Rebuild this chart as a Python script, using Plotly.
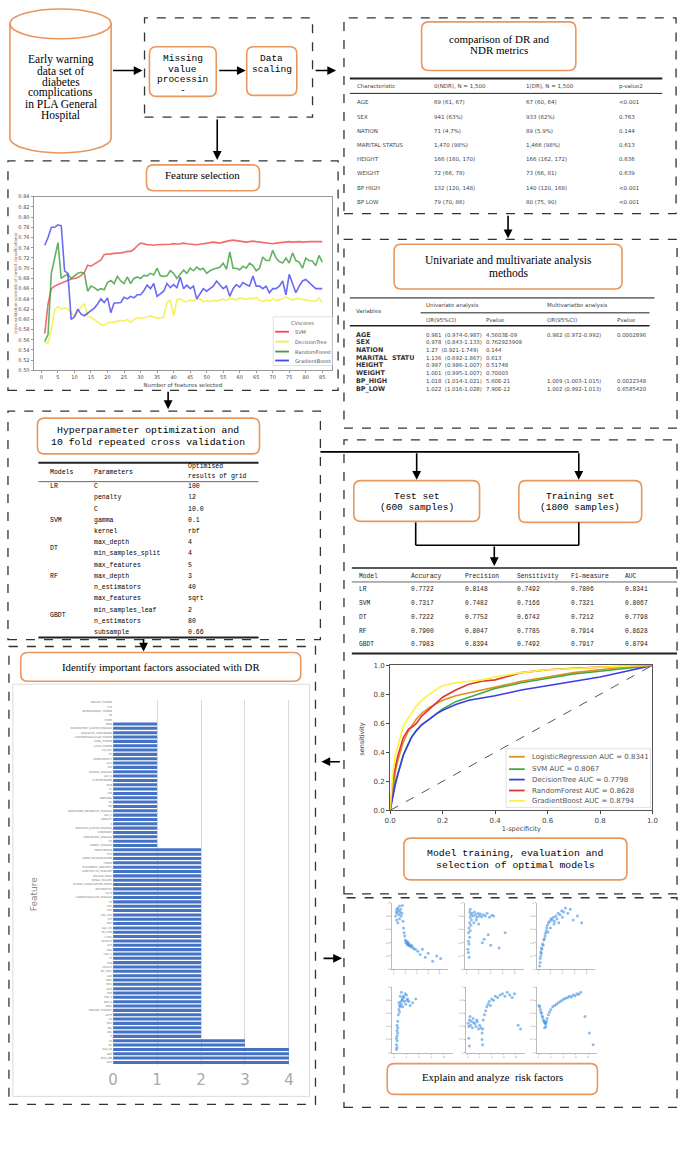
import plotly.graph_objects as go

W, H = 685, 1153


def X(px):
    return px / W


def Y(py):
    return 1 - py / H


# ---------------- data ----------------
n_features = list(range(1, 86))
cv_svm = [0.572, 0.630, 0.660, 0.665, 0.668, 0.671, 0.674, 0.677, 0.679, 0.680,
          0.682, 0.686, 0.692, 0.706, 0.704, 0.708, 0.712, 0.716, 0.727, 0.727,
          0.728, 0.729, 0.729, 0.730, 0.731, 0.733, 0.733, 0.737, 0.744, 0.749,
          0.748, 0.746, 0.746, 0.745, 0.746, 0.746, 0.746, 0.747, 0.747, 0.748,
          0.747, 0.748, 0.749, 0.748, 0.747, 0.746, 0.746, 0.747, 0.748, 0.750,
          0.751, 0.751, 0.750, 0.749, 0.751, 0.753, 0.754, 0.755, 0.754, 0.753,
          0.752, 0.751, 0.752, 0.753, 0.752, 0.751, 0.750, 0.750, 0.749, 0.748,
          0.749, 0.750, 0.751, 0.751, 0.752, 0.751, 0.752, 0.752, 0.751, 0.752,
          0.752, 0.752, 0.752, 0.753, 0.752]
cv_dt = [0.555, 0.553, 0.580, 0.618, 0.625, 0.620, 0.622, 0.620, 0.612, 0.606,
         0.614, 0.624, 0.630, 0.606, 0.604, 0.600, 0.595, 0.590, 0.588, 0.593,
         0.594, 0.594, 0.596, 0.598, 0.596, 0.600, 0.594, 0.600, 0.603, 0.602,
         0.603, 0.604, 0.607, 0.605, 0.602, 0.603, 0.604, 0.634, 0.637, 0.607,
         0.638, 0.640, 0.636, 0.634, 0.638, 0.636, 0.639, 0.640, 0.634, 0.636,
         0.635, 0.637, 0.636, 0.638, 0.640, 0.637, 0.641, 0.640, 0.638, 0.642,
         0.640, 0.639, 0.641, 0.640, 0.643, 0.637, 0.635, 0.638, 0.636, 0.640,
         0.637, 0.638, 0.641, 0.644, 0.640, 0.638, 0.640, 0.641, 0.639, 0.638,
         0.637, 0.636, 0.635, 0.642, 0.633]
cv_rf = [0.557, 0.570, 0.690, 0.720, 0.750, 0.680, 0.685, 0.688, 0.680, 0.685,
         0.690, 0.692, 0.690, 0.655, 0.665, 0.662, 0.657, 0.660, 0.658, 0.672,
         0.676, 0.670, 0.684, 0.675, 0.670, 0.683, 0.670, 0.680, 0.683, 0.680,
         0.686, 0.685, 0.690, 0.687, 0.700, 0.685, 0.684, 0.685, 0.695, 0.690,
         0.680, 0.688, 0.696, 0.690, 0.700, 0.695, 0.702, 0.697, 0.700, 0.690,
         0.695, 0.698, 0.700, 0.702, 0.710, 0.698, 0.732, 0.700, 0.700, 0.697,
         0.704, 0.700, 0.710, 0.705, 0.695, 0.700, 0.722, 0.715, 0.715, 0.735,
         0.720, 0.713, 0.710, 0.720, 0.710, 0.730, 0.715, 0.712, 0.700, 0.720,
         0.715, 0.714, 0.705, 0.725, 0.712]
cv_gb = [0.745, 0.760, 0.780, 0.780, 0.785, 0.783, 0.695, 0.690, 0.600, 0.605,
         0.620, 0.610, 0.607, 0.612, 0.617, 0.622, 0.630, 0.640, 0.633, 0.642,
         0.613, 0.632, 0.632, 0.633, 0.643, 0.640, 0.645, 0.642, 0.648, 0.648,
         0.656, 0.667, 0.660, 0.670, 0.645, 0.650, 0.655, 0.670, 0.662, 0.668,
         0.662, 0.683, 0.660, 0.667, 0.660, 0.665, 0.640, 0.650, 0.660, 0.655,
         0.660, 0.665, 0.675, 0.668, 0.660, 0.665, 0.645, 0.660, 0.668, 0.663,
         0.672, 0.668, 0.665, 0.685, 0.665, 0.665, 0.660, 0.665, 0.652, 0.660,
         0.660, 0.665, 0.675, 0.648, 0.688, 0.670, 0.652, 0.665, 0.675, 0.678,
         0.672, 0.668, 0.660, 0.660, 0.660]
cv_names = ["SVM", "DecisionTree", "RandomForest", "GradientBoost"]
cv_colors = ["#F04848", "#F6EE3C", "#3E9E3E", "#4646F0"]

roc_fpr = [0, 0.01, 0.02, 0.03, 0.05, 0.07, 0.08, 0.1, 0.12, 0.15, 0.18, 0.2,
           0.25, 0.3, 0.35, 0.4, 0.5, 0.6, 0.7, 0.8, 0.9, 1.0]
roc_lr = [0, 0.15, 0.27, 0.35, 0.47, 0.55, 0.58, 0.63, 0.67, 0.71, 0.74, 0.76,
          0.79, 0.81, 0.83, 0.85, 0.89, 0.92, 0.95, 0.97, 0.99, 1.0]
roc_svm = [0, 0.12, 0.20, 0.26, 0.38, 0.46, 0.50, 0.55, 0.59, 0.63, 0.67, 0.70,
           0.75, 0.78, 0.81, 0.84, 0.88, 0.91, 0.94, 0.96, 0.98, 1.0]
roc_dt = [0, 0.10, 0.18, 0.25, 0.38, 0.46, 0.50, 0.55, 0.59, 0.63, 0.67, 0.69,
          0.73, 0.76, 0.775, 0.79, 0.83, 0.86, 0.89, 0.92, 0.96, 1.0]
roc_rf = [0, 0.20, 0.30, 0.38, 0.50, 0.56, 0.57, 0.60, 0.65, 0.70, 0.75, 0.78,
          0.83, 0.87, 0.89, 0.90, 0.95, 0.97, 0.98, 0.99, 0.995, 1.0]
roc_gb = [0, 0.25, 0.38, 0.45, 0.58, 0.64, 0.67, 0.72, 0.76, 0.80, 0.84, 0.86,
          0.88, 0.89, 0.90, 0.92, 0.95, 0.97, 0.98, 0.99, 0.995, 1.0]
roc_names = ["LogisticRegression AUC = 0.8341", "SVM AUC = 0.8067",
             "DecisionTree AUC = 0.7798", "RandomForest AUC = 0.8628",
             "GradientBoost AUC = 0.8794"]
roc_colors = ["#E0901E", "#45A845", "#3C3CE6", "#E03434", "#FFF23A"]

features = ["BREAST_TUMOR", "CYP", "INTRACRANIAL_TUMOR", "TB", "FOOD",
            "MDR", "RESPIRATORY_SYSTEM_DISEASE", "DIGESTIVE_CARCINOMA", "CEREBROVASCULAR_TUMOR",
            "LUNG_TUMOR", "LIVER_TUMOR", "HB_A1C", "TC", "HEMATOPATHY", "GLU", "ALT",
            "MENTAL_DISEASE", "AST_A", "HYPERTENSION", "BUN", "CL", "LPA", "SMOKING", "TG",
            "NA", "ENDOCRINE_METABOLIC_DISEASE", "LDL_C", "GRAVITY", "K",
            "NERVOUS_SYSTEM_DISEASE", "CORONARY", "PANCREATIC_DISEASE", "CK", "KIDNEY_DISEASE",
            "PROTEINURIA", "PCT", "URINE_MICROALBUMIN", "FIBRIN", "RHEUMATIC_IMMUNITY",
            "LYMPHOCYTE_PERCENT", "INSULIN_DOSE", "RENAL_FAILURE", "BLOOD_COAGULATION_INDEX",
            "NEUTROPHIL", "UA_R", "CARDIOVASCULAR_DISEASE", "TP", "CRE", "HDL", "LDL_HDL",
            "PLT", "RBC", "GLU_2H", "BP_LOW", "CHOL", "WEIGHT", "ALP", "HBG", "HDL_C", "TT",
            "PTA", "HEIGHT", "BP_HIGH", "ALB", "WBC", "MCV", "GGT", "CRP", "FBG_1", "APO_A",
            "DBIL", "INSULIN_THERAPY", "APTT", "CA", "TBIL", "MG", "IBIL", "P",
            "CP", "DL", "ALB_CR", "ADP", "DUR_DM", "AGE"]
importance = [0, 0, 0, 0, 0,
              1, 1, 1, 1, 1, 1, 1, 1, 1, 1, 1, 1, 1, 1, 1,
              1, 1, 1, 1, 1, 1, 1, 1, 1, 1, 1, 1, 1, 1,
              2, 2, 2, 2, 2, 2, 2, 2, 2, 2, 2, 2, 2, 2, 2,
              2, 2, 2, 2, 2, 2, 2, 2, 2, 2, 2, 2, 2, 2, 2,
              2, 2, 2, 2, 2, 2, 2, 2, 2, 2, 2, 2, 2, 2,
              3, 3, 4, 4, 4, 4]

sc1_x = [0.3, 0.4, 0.5, 0.5, 0.6, 0.7, 0.7, 0.8, 0.9, 1.0, 1.0, 1.1, 1.2, 1.3, 1.4, 1.5, 1.6, 1.7, 1.8, 1.9,
         2.0, 2.1, 2.2, 2.3, 2.4, 2.5, 2.6, 2.7, 2.8, 3.0, 3.1, 3.3, 3.5, 3.8, 4.2, 4.6, 5.0, 5.5, 6.0, 6.8, 7.5, 8.2]
sc1_y = [0.80, 0.86, 0.90, 0.74, 0.84, 0.92, 0.70, 0.88, 0.82, 0.95, 0.76, 0.86, 0.90, 0.80, 0.84, 0.96, 0.72, 0.62, 0.55, 0.50,
         0.44, 0.40, 0.42, 0.38, 0.41, 0.36, 0.39, 0.37, 0.35, 0.34, 0.36, 0.33, 0.31, 0.30, 0.27, 0.22, 0.30, 0.18, 0.24, 0.12, 0.20, 0.16]
sc2_x = [0.2, 0.3, 0.3, 0.4, 0.4, 0.5, 0.5, 0.6, 0.6, 0.7, 0.7, 0.8, 0.3, 0.5, 0.6, 0.9, 1.1, 1.3, 1.5, 1.7,
         1.9, 2.1, 2.3, 2.5, 2.8, 3.1, 3.4, 3.8, 4.2, 4.5, 1.2, 1.6, 2.0, 2.9, 3.6, 4.0, 5.4, 6.4, 2.6, 0.4]
sc2_y = [0.30, 0.42, 0.55, 0.38, 0.62, 0.48, 0.70, 0.58, 0.78, 0.66, 0.82, 0.74, 0.25, 0.86, 0.90, 0.84, 0.80, 0.86, 0.82, 0.78,
         0.84, 0.80, 0.83, 0.79, 0.82, 0.80, 0.84, 0.78, 0.81, 0.80, 0.70, 0.74, 0.68, 0.45, 0.52, 0.36, 0.32, 0.55, 0.40, 0.18]
sc3_x = [0.2, 0.3, 0.3, 0.4, 0.4, 0.5, 0.5, 0.6, 0.7, 0.8, 0.9, 1.0, 1.1, 1.2, 1.3, 1.4, 1.5, 1.7, 1.9, 2.1,
         2.3, 2.5, 2.7, 2.9, 3.1, 3.3, 3.6, 3.9, 4.2, 4.5, 4.9, 5.3, 5.8, 6.5, 7.2, 1.6, 2.0, 2.6, 3.4, 4.0]
sc3_y = [0.05, 0.10, 0.16, 0.20, 0.26, 0.24, 0.32, 0.30, 0.38, 0.36, 0.44, 0.46, 0.50, 0.54, 0.58, 0.62, 0.66, 0.70, 0.72, 0.76,
         0.74, 0.78, 0.72, 0.80, 0.76, 0.84, 0.82, 0.88, 0.86, 0.92, 0.84, 0.90, 0.74, 0.80, 0.70, 0.56, 0.62, 0.68, 0.70, 0.78]
sc4_x = [0.4, 0.4, 0.5, 0.5, 0.5, 0.6, 0.6, 0.5, 0.4, 0.6, 0.5, 0.7, 0.8, 0.9, 1.0, 1.1, 1.2, 1.3, 1.4, 1.5,
         1.6, 1.8, 2.0, 2.2, 2.4, 0.8, 1.0, 1.2, 1.4, 1.7, 1.9, 2.1, 2.6, 3.0, 3.5, 0.9]
sc4_y = [0.05, 0.12, 0.08, 0.18, 0.26, 0.30, 0.38, 0.42, 0.22, 0.48, 0.34, 0.58, 0.66, 0.72, 0.70, 0.78, 0.74, 0.82, 0.80, 0.86,
         0.84, 0.90, 0.88, 0.82, 0.78, 0.76, 0.86, 0.92, 0.70, 0.78, 0.74, 0.80, 0.72, 0.76, 0.82, 0.62]
sc5_x = [0.1, 0.2, 0.3, 0.5, 0.6, 0.8, 1.0, 1.2, 1.4, 1.6, 1.8, 2.0, 2.2, 0.4, 0.9, 1.5, 2.4, 2.4, 2.5, 2.5,
         2.6, 2.8, 3.0, 3.2, 3.4, 3.6, 3.8, 4.0, 4.3, 4.6, 5.0, 5.4, 5.8, 6.2, 6.6, 7.0, 7.4, 7.8, 8.4, 8.8, 0.2, 0.3]
sc5_y = [0.45, 0.40, 0.50, 0.42, 0.48, 0.38, 0.46, 0.44, 0.40, 0.47, 0.36, 0.42, 0.38, 0.55, 0.52, 0.50, 0.30, 0.20, 0.12, 0.36,
         0.50, 0.58, 0.64, 0.70, 0.74, 0.78, 0.72, 0.82, 0.80, 0.86, 0.84, 0.88, 0.90, 0.86, 0.92, 0.88, 0.84, 0.90, 0.42, 0.36, 0.22, 0.10]
sc6_x = [0.1, 0.2, 0.3, 0.4, 0.5, 0.6, 0.7, 0.8, 0.9, 1.0, 1.1, 1.2, 1.3, 1.4, 1.6, 1.8, 2.0, 2.3, 2.6, 2.9,
         3.2, 3.5, 3.8, 4.1, 4.4, 4.7, 5.0, 5.3, 5.6, 5.9, 6.2, 6.5, 6.8, 1.0, 1.2, 7.5, 8.2, 8.8]
sc6_y = [0.72, 0.70, 0.66, 0.62, 0.60, 0.56, 0.54, 0.50, 0.48, 0.46, 0.44, 0.45, 0.48, 0.52, 0.58, 0.62, 0.66, 0.70, 0.72, 0.74,
         0.76, 0.78, 0.80, 0.82, 0.83, 0.84, 0.86, 0.85, 0.88, 0.87, 0.90, 0.89, 0.92, 0.38, 0.40, 0.55, 0.30, 0.12]

cmp_header = ["Characteristic", "0(NDR), N = 1,500", "1(DR), N = 1,500", "p-value2"]
cmp_rows = [
    ["AGE", "69 (61, 67)", "67 (60, 64)", "<0.001"],
    ["SEX", "941 (63%)", "933 (62%)", "0.763"],
    ["NATION", "71 (4.7%)", "89 (5.9%)", "0.144"],
    ["MARITAL STATUS", "1,470 (98%)", "1,466 (98%)", "0.613"],
    ["HEIGHT", "166 (160, 170)", "166 (162, 172)", "0.636"],
    ["WEIGHT", "72 (66, 78)", "73 (66, 81)", "0.639"],
    ["BP HIGH", "132 (120, 148)", "140 (120, 168)", "<0.001"],
    ["BP LOW", "79 (70, 86)", "80 (75, 90)", "<0.001"],
]
uni_rows = [
    ["AGE", "0.981  (0.974-0.987)", "4.5603E-09", "0.982 (0.972-0.992)", "0.0002896"],
    ["SEX", "0.978  (0.843-1.133)", "0.762923909", "", ""],
    ["NATION", "1.27  (0.921-1.749)", "0.144", "", ""],
    ["MARITAL  STATU", "1.136  (0.692-1.867)", "0.613", "", ""],
    ["HEIGHT", "0.997  (0.986-1.007)", "0.51748", "", ""],
    ["WEIGHT", "1.001  (0.995-1.007)", "0.70003", "", ""],
    ["BP_HIGH", "1.018  (1.014-1.021)", "5.60E-21", "1.009 (1.003-1.015)", "0.0022348"],
    ["BP_LOW", "1.022  (1.016-1.028)", "7.90E-12", "1.002 (0.992-1.013)", "0.6585420"],
]
hp_models = [("LR", 0), ("SVM", 3), ("DT", 5.5), ("RF", 8), ("GBDT", 11.5)]
hp_params = ["C", "penalty", "C", "gamma", "kernel", "max_depth", "min_samples_split",
             "max_features", "max_depth", "n_estimators", "max_features",
             "min_samples_leaf", "n_estimators", "subsample"]
hp_values = ["100", "l2", "10.0", "0.1", "rbf", "4", "4", "5", "3", "40", "sqrt",
             "2", "80", "0.66"]
met_header = ["Model", "Accuracy", "Precision", "Sensitivity", "F1-measure", "AUC"]
met_rows = [
    ["LR", "0.7722", "0.8148", "0.7492", "0.7806", "0.8341"],
    ["SVM", "0.7317", "0.7482", "0.7166", "0.7321", "0.8067"],
    ["DT", "0.7222", "0.7752", "0.6742", "0.7212", "0.7798"],
    ["RF", "0.7900", "0.8047", "0.7785", "0.7914", "0.8628"],
    ["GBDT", "0.7983", "0.8394", "0.7492", "0.7917", "0.8794"],
]

SERIF = "Liberation Serif"
MONO = "Liberation Mono"
SANS = "DejaVu Sans"
ORANGE = "#E9975E"

fig = go.Figure()

# feature selection curves
for name, vals, col in zip(cv_names, [cv_svm, cv_dt, cv_rf, cv_gb], cv_colors):
    fig.add_trace(go.Scatter(x=n_features, y=vals, mode="lines", name=name,
                             line=dict(color=col, width=1.6), opacity=0.8,
                             showlegend=False, xaxis="x", yaxis="y"))

# ROC curves
for name, tpr, col in zip(roc_names, [roc_lr, roc_svm, roc_dt, roc_rf, roc_gb], roc_colors):
    fig.add_trace(go.Scatter(x=roc_fpr, y=tpr, mode="lines", name=name,
                             line=dict(color=col, width=1.6), showlegend=False,
                             xaxis="x2", yaxis="y2"))
fig.add_trace(go.Scatter(x=[0, 1], y=[0, 1], mode="lines", showlegend=False,
                         line=dict(color="#555", width=1, dash="dash"),
                         xaxis="x2", yaxis="y2"))

# feature importance bars
fig.add_trace(go.Bar(x=importance, y=features, orientation="h", showlegend=False,
                     marker=dict(color="#4472C4", line=dict(width=0)),
                     xaxis="x3", yaxis="y3"))

# dependence scatter plots
scatters = [(sc1_x, sc1_y), (sc2_x, sc2_y), (sc3_x, sc3_y),
            (sc4_x, sc4_y), (sc5_x, sc5_y), (sc6_x, sc6_y)]
for i, (sx, sy) in enumerate(scatters):
    fig.add_trace(go.Scatter(x=sx, y=sy, mode="markers", showlegend=False,
                             marker=dict(color="#2F86E0", size=3, opacity=0.55),
                             xaxis="x%d" % (i + 4), yaxis="y%d" % (i + 4)))

# ---------------- shapes ----------------
shapes = []


def dashed_box(x0, y0, x1, y1):
    shapes.append(dict(type="rect", xref="paper", yref="paper", x0=X(x0), x1=X(x1),
                       y0=Y(y1), y1=Y(y0), line=dict(color="#333", width=1.3, dash="dash")))


def round_box(x0, y0, x1, y1, r=7):
    rx, ry = r / W, r / H
    a, b, c, d = X(x0), X(x1), Y(y0), Y(y1)
    path = (f"M {a + rx},{c} L {b - rx},{c} Q {b},{c} {b},{c - ry} L {b},{d + ry} "
            f"Q {b},{d} {b - rx},{d} L {a + rx},{d} Q {a},{d} {a},{d + ry} "
            f"L {a},{c - ry} Q {a},{c} {a + rx},{c} Z")
    shapes.append(dict(type="path", xref="paper", yref="paper", path=path,
                       line=dict(color=ORANGE, width=1.6), fillcolor="rgba(0,0,0,0)"))


def hline(x0, x1, y, w=1.0, col="#222"):
    shapes.append(dict(type="line", xref="paper", yref="paper", x0=X(x0), x1=X(x1),
                       y0=Y(y), y1=Y(y), line=dict(color=col, width=w)))


def vline(x, y0, y1, w=1.6, col="black"):
    shapes.append(dict(type="line", xref="paper", yref="paper", x0=X(x), x1=X(x),
                       y0=Y(y0), y1=Y(y1), line=dict(color=col, width=w)))


# cylinder
k = 0.5523
cx, rxc, ryc, cyb = 55.5, 51.5, 15, 135
body = (f"M {X(4)},{Y(20)} L {X(4)},{Y(cyb)} "
        f"C {X(4)},{Y(cyb + k * ryc)} {X(cx - k * rxc)},{Y(cyb + ryc)} {X(cx)},{Y(cyb + ryc)} "
        f"C {X(cx + k * rxc)},{Y(cyb + ryc)} {X(107)},{Y(cyb + k * ryc)} {X(107)},{Y(cyb)} "
        f"L {X(107)},{Y(20)} Z")
shapes.append(dict(type="path", xref="paper", yref="paper", path=body,
                   line=dict(color=ORANGE, width=1.6), fillcolor="white"))
shapes.append(dict(type="circle", xref="paper", yref="paper", x0=X(4), x1=X(107),
                   y0=Y(35), y1=Y(5), line=dict(color=ORANGE, width=1.6), fillcolor="white"))

for b in [(141, 14, 312, 114), (344, 14, 682, 211), (2, 158, 338, 389),
          (344, 237, 683, 427), (2, 410, 320, 640), (344, 439, 683, 896),
          (3, 647, 315, 1108), (344, 900, 683, 1111)]:
    dashed_box(*b)

for b in [(146, 43, 214, 93), (245, 43, 296, 92), (423, 18, 580, 67),
          (143, 162, 258, 188), (395, 242, 627, 287), (32, 417, 258, 453),
          (354, 480, 482, 521), (522, 480, 647, 522), (405, 840, 632, 882),
          (15, 653, 300, 682), (388, 1067, 602, 1098)]:
    round_box(*b)

# bar chart frame
shapes.append(dict(type="rect", xref="paper", yref="paper", x0=X(7), x1=X(309),
                   y0=Y(1100), y1=Y(685), line=dict(color="#dcdcdc", width=1)))

# table rules
hline(350, 668, 75, 1.8)
hline(350, 668, 90, 1.0)
hline(350, 660, 296, 1.8, "#777")
hline(422, 655, 311, 1.0)
hline(350, 655, 324, 1.3)
hline(33, 257, 462, 2.0)
hline(33, 257, 481, 1.0, "#666")
hline(33, 257, 638, 2.0)
hline(352, 683, 568, 1.6)
hline(352, 683, 582, 1.0, "#666")
hline(352, 683, 654, 2.0)

# connector lines
hline(320, 583, 451, 1.6, "black")
vline(417, 522, 545)
vline(583, 522, 545)
hline(417, 583, 545, 1.6, "black")

# ---------------- annotations ----------------
ann = []


def txt(s, x, y, size, family=SANS, color="black", xanchor="left", **kw):
    ann.append(dict(text=s, x=X(x), y=Y(y), xref="paper", yref="paper", showarrow=False,
                    xanchor=xanchor, yanchor="middle", font=dict(size=size, family=family, color=color), **kw))


def lines(strs, cxp, y0, step, size, family):
    for i, s in enumerate(strs):
        txt(s, cxp, y0 + i * step, size, family, xanchor="center")


def arrow(xh, yh, xt, yt):
    ann.append(dict(text="", x=X(xh), y=Y(yh), xref="paper", yref="paper",
                    ax=xt - xh, ay=yt - yh, axref="pixel", ayref="pixel", showarrow=True,
                    arrowhead=2, arrowsize=1.1, arrowwidth=1.6, arrowcolor="black"))


# small hand-drawn legends (plotly's own legend rows are too tall at this size)
def legend_box(x0, y0, x1, y1, title, names, colors, ys, lx0, lx1, tx, size):
    shapes.append(dict(type="rect", xref="paper", yref="paper", x0=X(x0), x1=X(x1),
                       y0=Y(y1), y1=Y(y0), line=dict(color="#d8d8d8", width=0.8),
                       fillcolor="rgba(255,255,255,0.9)"))
    if title:
        txt(title, (x0 + x1) / 2, y0 + 6, size, SANS, "#555", xanchor="center")
    for name, col, yy in zip(names, colors, ys):
        hline(lx0, lx1, yy, 1.8, col)
        txt(name, tx, yy, size, SANS, "#555")


legend_box(272, 315, 332, 364, "CVscores", cv_names, cv_colors,
           [330, 340, 350, 359], 274, 288, 292, 5)
legend_box(509, 750, 656, 809, None, roc_names, roc_colors,
           [758, 770.5, 781, 792, 802.5], 512, 528, 533, 7)

lines(["Early warning", "data set of", "diabetes", "complications", "in PLA General", "Hospital"],
      55.5, 56, 11.2, 11.5, SERIF)
lines(["Missing", "value", "processin", "-"], 180, 55, 10.7, 9.5, MONO)
lines(["Data", "scaling"], 270.5, 55, 11, 9.5, MONO)
lines(["comparison of DR and", "NDR metrics"], 501.5, 35, 11, 11, SERIF)
lines(["Feature selection"], 200.5, 172, 11, 11, SERIF)
lines(["Univariate and multivariate analysis", "methods"], 511, 258, 13, 11.5, SERIF)
lines(["Hyperparameter optimization and", "10 fold repeated cross validation"], 145, 429, 13, 9.8, MONO)
lines(["Test set", "(600 samples)"], 418, 496, 11.5, 9.5, MONO)
lines(["Training set", "(1800 samples)"], 584.5, 496, 11.5, 9.5, MONO)
lines(["Model training, evaluation and", "selection of optimal models"], 518.5, 855, 13, 9.8, MONO)
lines(["Identify important factors associated with DR"], 157.5, 667.5, 11, 10.8, SERIF)
lines(["Explain and analyze  risk factors"], 495, 1081, 11, 10.8, SERIF)

# comparison table
cmp_x = [355, 434, 527, 622]
for cx_, s in zip(cmp_x, cmp_header):
    txt(s, cx_, 83, 5.5, SANS, "#444")
for r, row in enumerate(cmp_rows):
    for cx_, s in zip(cmp_x, row):
        txt(s, cx_, 99 + r * 14.3, 5.5, SANS, "#444")

# univariate table
uni_x = [354, 425, 487, 549, 620]
txt("Variables", 354, 309, 5.5, SANS, "#444")
txt("Univariate analysis", 425, 304, 5.5, SANS, "#444")
txt("Multivariatbe analysis", 549, 304, 5.5, SANS, "#444")
for cx_, s in zip(uni_x[1:], ["OR(95%CI)", "Pvalue", "OR(95%CI)", "Pvalue"]):
    txt(s, cx_, 318, 5.5, SANS, "#444")
for r, row in enumerate(uni_rows):
    for j, (cx_, s) in enumerate(zip(uni_x, row)):
        if s:
            txt("<b>%s</b>" % s if j == 0 else s, cx_, 333 + r * 7.75,
                6.4 if j == 0 else 5.4, SANS, "#333" if j == 0 else "#444")

# hyperparameter table
txt("Models", 43, 472, 6.5, MONO)
txt("Parameters", 88, 472, 6.5, MONO)
txt("Optimised", 183, 466, 6.5, MONO)
txt("results of grid", 183, 476, 6.5, MONO)
for name, pos in hp_models:
    txt(name, 43, 486 + pos * 11.3, 6.5, MONO)
for r, (p, v) in enumerate(zip(hp_params, hp_values)):
    txt(p, 88, 486 + r * 11.3, 6.5, MONO)
    txt(v, 183, 486 + r * 11.3, 6.5, MONO)

# metrics table
met_x = [357, 410, 465, 518, 573, 628]
for cx_, s in zip(met_x, met_header):
    txt(s, cx_, 576, 6.3, MONO, "#222")
for r, row in enumerate(met_rows):
    for cx_, s in zip(met_x, row):
        txt(s, cx_, 590 + r * 13.8, 6.3, MONO, "#222")

txt("Feature", 28, 897, 9, SANS, "#888", xanchor="center", textangle=-90)
txt("cross validation score(nb of correct classifications)", 9, 281, 4, SANS, "#666",
    xanchor="center", textangle=-90)
txt("sensitivity", 362, 740, 6.5, SANS, "#444", xanchor="center", textangle=-90)

# arrows
arrow(139, 67, 108, 67)
arrow(244, 67, 216, 67)
arrow(336, 67, 314, 67)
arrow(215, 157, 215, 115)
arrow(511, 236, 511, 212)
arrow(165, 408, 165, 389)
arrow(418, 479, 418, 451)
arrow(583, 479, 583, 451)
arrow(497, 566, 497, 545)
arrow(140, 652, 140, 638)
arrow(321, 763, 341, 763)
arrow(342, 961, 322, 961)

# ---------------- axes ----------------
small = dict(size=5, color="#444", family=SANS)
layout_axes = dict(
    xaxis=dict(domain=[X(28), X(332)], range=[-2.4, 88], anchor="y",
               tickvals=list(range(0, 90, 5)), tickfont=small, showline=True, mirror=True,
               linecolor="#999", ticks="outside", ticklen=2, tickcolor="#999",
               showgrid=False, zeroline=False,
               title=dict(text="Number of features selected", font=dict(size=5.5, color="#444"), standoff=3)),
    yaxis=dict(domain=[Y(369), Y(194)], range=[0.5, 0.84], anchor="x", dtick=0.02,
               tickformat=".2f", tickfont=small, showline=True, mirror=True,
               linecolor="#999", ticks="outside", ticklen=2, tickcolor="#999",
               showgrid=False, zeroline=False),
    xaxis2=dict(domain=[X(391), X(658)], range=[0, 1], anchor="y2", dtick=0.2,
                tickformat=".1f", tickfont=dict(size=7, color="#444"), showline=True,
                mirror=True, linecolor="#555", ticks="outside", ticklen=3, showgrid=False,
                zeroline=False,
                title=dict(text="1-specificity", font=dict(size=6.5, color="#444"), standoff=2)),
    yaxis2=dict(domain=[Y(812), Y(666)], range=[0, 1], anchor="x2", dtick=0.2,
                tickformat=".1f", tickfont=dict(size=7, color="#444"), showline=True,
                mirror=True, linecolor="#555", ticks="outside", ticklen=3, showgrid=False,
                zeroline=False),
    xaxis3=dict(domain=[X(109), X(292)], range=[0, 4.09], anchor="y3",
                tickvals=[0, 1, 2, 3, 4], tickfont=dict(size=15, color="#aaa"),
                showgrid=True, gridcolor="#d9d9d9", zeroline=False, showline=False,
                ticklabelstandoff=4),
    yaxis3=dict(domain=[Y(1068), Y(701)], anchor="x3", type="category",
                autorange="reversed", dtick=1, tickfont=dict(size=2.6, color="#777"),
                showgrid=False, zeroline=False, showline=False),
)
sc_dom = [([393, 450], [905, 972]), ([467, 527], [905, 972]), ([540, 600], [905, 972]),
          ([393, 455], [990, 1056]), ([468, 528], [990, 1056]), ([540, 602], [990, 1056])]
for i, (dx, dy) in enumerate(sc_dom):
    n = i + 4
    layout_axes["xaxis%d" % n] = dict(domain=[X(dx[0]), X(dx[1])], range=[-0.3, 9.5],
                                      anchor="y%d" % n, showline=True, linecolor="#bbb",
                                      tickfont=dict(size=2.5, color="#888"), nticks=6,
                                      ticks="outside", ticklen=1, tickcolor="#bbb",
                                      showgrid=False, zeroline=False)
    layout_axes["yaxis%d" % n] = dict(domain=[Y(dy[1]), Y(dy[0])], range=[0, 1],
                                      anchor="x%d" % n, showline=True, linecolor="#bbb",
                                      tickfont=dict(size=2.5, color="#888"), nticks=8,
                                      ticks="outside", ticklen=1, tickcolor="#bbb",
                                      showgrid=False, zeroline=False)

fig.update_layout(
    width=W, height=H, autosize=False,
    margin=dict(l=0, r=0, t=0, b=0, pad=0),
    paper_bgcolor="white", plot_bgcolor="white",
    font=dict(family=SANS),
    bargap=0.3, showlegend=False,
    shapes=shapes, annotations=ann,
    **layout_axes,
)

fig.write_html("out.html", config={"displayModeBar": False},
               post_script="document.body.style.margin='0';")
